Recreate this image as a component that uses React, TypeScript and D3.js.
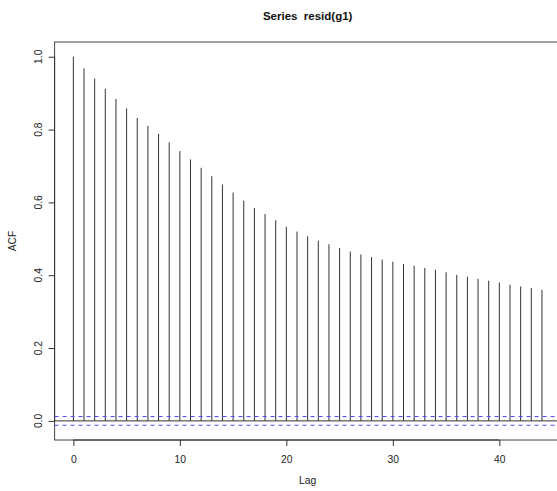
import React, { useRef, useEffect } from "react";
import * as d3 from "d3";

// ACF values, lags 0..44
const lags = d3.range(0, 45);
const acfValues = [
  1.0, 0.968, 0.94, 0.912, 0.884, 0.858, 0.832, 0.81, 0.788, 0.765,
  0.741, 0.718, 0.695, 0.672, 0.649, 0.627, 0.605, 0.585, 0.568, 0.551,
  0.533, 0.52, 0.507, 0.495, 0.485, 0.475, 0.465, 0.457, 0.45, 0.443,
  0.437, 0.431, 0.426, 0.42, 0.415, 0.408, 0.401, 0.396, 0.39, 0.385,
  0.38, 0.374, 0.369, 0.365, 0.36,
];
const xTicks = [0, 10, 20, 30, 40];
const yTicks = [0.0, 0.2, 0.4, 0.6, 0.8, 1.0];
const confLimit = 0.012;

const App = () => {
  const svgRef = useRef<SVGSVGElement>(null);

  useEffect(() => {
    const width = 557;
    const height = 491;
    const box = { left: 54.6, right: 560.7, top: 42, bottom: 440 };
    const font = "'Liberation Sans', Arial, Helvetica, sans-serif";
    const labelSize = 10.3;

    const svg = d3
      .select(svgRef.current)
      .attr("width", width)
      .attr("height", height)
      .style("background", "#fff");
    svg.selectAll("*").remove();

    // R style 4% expansion
    const xScale = d3
      .scaleLinear()
      .domain([0 - 44 * 0.04, 44 + 44 * 0.04])
      .range([box.left, box.right]);

    const yMin = -confLimit;
    const yMax = 1;
    const yPad = (yMax - yMin) * 0.04;
    const yScale = d3
      .scaleLinear()
      .domain([yMin - yPad, yMax + yPad])
      .range([box.bottom, box.top]);

    const data = lags.map((lag, i) => ({ lag, value: acfValues[i] }));

    // Clip to plot region
    svg
      .append("clipPath")
      .attr("id", "plot-clip")
      .append("rect")
      .attr("x", box.left)
      .attr("y", box.top)
      .attr("width", box.right - box.left)
      .attr("height", box.bottom - box.top);

    const plot = svg.append("g").attr("clip-path", "url(#plot-clip)");

    // Spikes
    plot
      .selectAll(".spike")
      .data(data)
      .enter()
      .append("line")
      .attr("class", "spike")
      .attr("x1", (d) => xScale(d.lag))
      .attr("x2", (d) => xScale(d.lag))
      .attr("y1", yScale(0))
      .attr("y2", (d) => yScale(d.value))
      .attr("stroke", "#333")
      .attr("stroke-width", 1);

    // Zero line
    plot
      .append("line")
      .attr("x1", box.left)
      .attr("x2", box.right)
      .attr("y1", yScale(0))
      .attr("y2", yScale(0))
      .attr("stroke", "#333")
      .attr("stroke-width", 1);

    // Confidence limits
    plot
      .selectAll(".clim")
      .data([confLimit, -confLimit])
      .enter()
      .append("line")
      .attr("class", "clim")
      .attr("x1", box.left)
      .attr("x2", box.right)
      .attr("y1", (d) => yScale(d))
      .attr("y2", (d) => yScale(d))
      .attr("stroke", "#4d4dff")
      .attr("stroke-width", 1)
      .attr("stroke-dasharray", "4,4");

    // Box
    svg
      .append("rect")
      .attr("x", box.left)
      .attr("y", box.top)
      .attr("width", box.right - box.left)
      .attr("height", box.bottom - box.top)
      .attr("fill", "none")
      .attr("stroke", "#444")
      .attr("stroke-width", 1);

    // X axis
    const xAxis = svg
      .append("g")
      .attr("transform", `translate(0,${box.bottom})`)
      .call(d3.axisBottom(xScale).tickValues(xTicks).tickSize(6).tickSizeOuter(0));
    xAxis.select(".domain").attr("d", `M${xScale(0)},0H${xScale(40)}`).attr("stroke", "#333");
    xAxis.selectAll(".tick line").attr("stroke", "#333");
    xAxis
      .selectAll(".tick text")
      .attr("font-family", font)
      .attr("font-size", labelSize)
      .attr("fill", "#222")
      .attr("y", 23)
      .attr("dy", 0);

    // Y axis (labels rotated like R's default las = 0)
    const yAxis = svg
      .append("g")
      .attr("transform", `translate(${box.left},0)`)
      .call(d3.axisLeft(yScale).tickValues(yTicks).tickSize(6).tickSizeOuter(0).tickFormat(d3.format(".1f")));
    yAxis.select(".domain").attr("d", `M0,${yScale(0)}V${yScale(1)}`).attr("stroke", "#333");
    yAxis.selectAll(".tick line").attr("stroke", "#333");
    yAxis.selectAll(".tick text").remove();
    yAxis
      .selectAll(".ylab")
      .data(yTicks)
      .enter()
      .append("text")
      .attr("class", "ylab")
      .attr("transform", (d) => `translate(-12.9,${yScale(d)}) rotate(-90)`)
      .attr("text-anchor", "middle")
      .attr("font-family", font)
      .attr("font-size", labelSize)
      .attr("fill", "#222")
      .text((d) => d3.format(".1f")(d));

    // Title
    svg
      .append("text")
      .attr("x", (box.left + box.right) / 2)
      .attr("y", 20)
      .attr("text-anchor", "middle")
      .attr("font-family", font)
      .attr("font-size", 11.5)
      .attr("font-weight", "bold")
      .attr("fill", "#111")
      .style("white-space", "pre")
      .text("Series  resid(g1)");

    // Axis labels
    svg
      .append("text")
      .attr("x", (box.left + box.right) / 2)
      .attr("y", 484)
      .attr("text-anchor", "middle")
      .attr("font-family", font)
      .attr("font-size", labelSize)
      .attr("fill", "#222")
      .text("Lag");

    svg
      .append("text")
      .attr("transform", `translate(16,${(box.top + box.bottom) / 2}) rotate(-90)`)
      .attr("text-anchor", "middle")
      .attr("font-family", font)
      .attr("font-size", labelSize)
      .attr("fill", "#222")
      .text("ACF");
  }, []);

  return (
    <div style={{ position: "absolute", left: 0, top: 0 }}>
      <svg ref={svgRef}></svg>
    </div>
  );
};

export default App;
